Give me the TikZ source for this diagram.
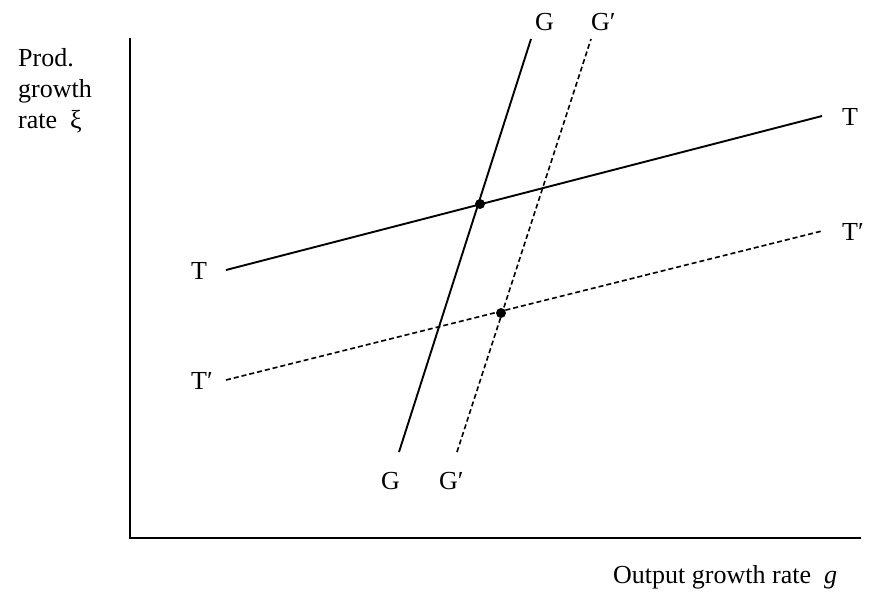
\documentclass[tikz,border=0pt]{standalone}
\usepackage{fontspec}
\setmainfont{Liberation Serif}
\begin{document}
\begin{tikzpicture}[x=1pt,y=-1pt,
  lbl/.style={inner sep=0pt,anchor=base west,font=\fontsize{26}{30}\selectfont},
  axis/.style={line width=2.2pt},
  solidline/.style={line width=1.9pt},
  dashline/.style={line width=1.6pt,dash pattern=on 5pt off 3pt},
  dot/.style={circle,fill=black,inner sep=0pt,minimum size=10pt}]
\useasboundingbox (0,0) rectangle (878,595);
% axes
\coordinate (ytop) at (130,38);
\coordinate (orig) at (130,538);
\coordinate (xend) at (861,538);
\draw[axis] (ytop) -- (orig) -- (xend);
% curve end points
\coordinate (T1) at (226,270);
\coordinate (T2) at (822,116);
\coordinate (Tp1) at (226,380);
\coordinate (Tp2) at (822,231);
\coordinate (G1) at (399,452);
\coordinate (G2) at (531,39);
\coordinate (Gp1) at (457,452);
\coordinate (Gp2) at (591,39);
\draw[solidline] (T1) -- (T2);
\draw[dashline] (Tp1) -- (Tp2);
\draw[solidline] (G1) -- (G2);
\draw[dashline] (Gp1) -- (Gp2);
\node[dot] (E1) at (480,204) {};
\node[dot] (E2) at (501,313) {};
% labels
\node[lbl] (lT) at (191,279) {T};
\node[lbl] (lTp) at (191,389) {T′};
\node[lbl] (rT) at (842,125) {T};
\node[lbl] (rTp) at (842,240) {T′};
\node[lbl] (tG) at (535,30) {G};
\node[lbl] (tGp) at (591,30) {G′};
\node[lbl] (bG) at (381,489) {G};
\node[lbl] (bGp) at (439,489) {G′};
\node[lbl] (yl1) at (18,66) {Prod.};
\node[lbl] (yl2) at (18,97) {growth};
\node[lbl] (yl3) at (18,128) {rate\ \ ξ};
\node[lbl] (xl) at (613,583) {Output growth rate\ \ \textit{g}};
\end{tikzpicture}
\end{document}
